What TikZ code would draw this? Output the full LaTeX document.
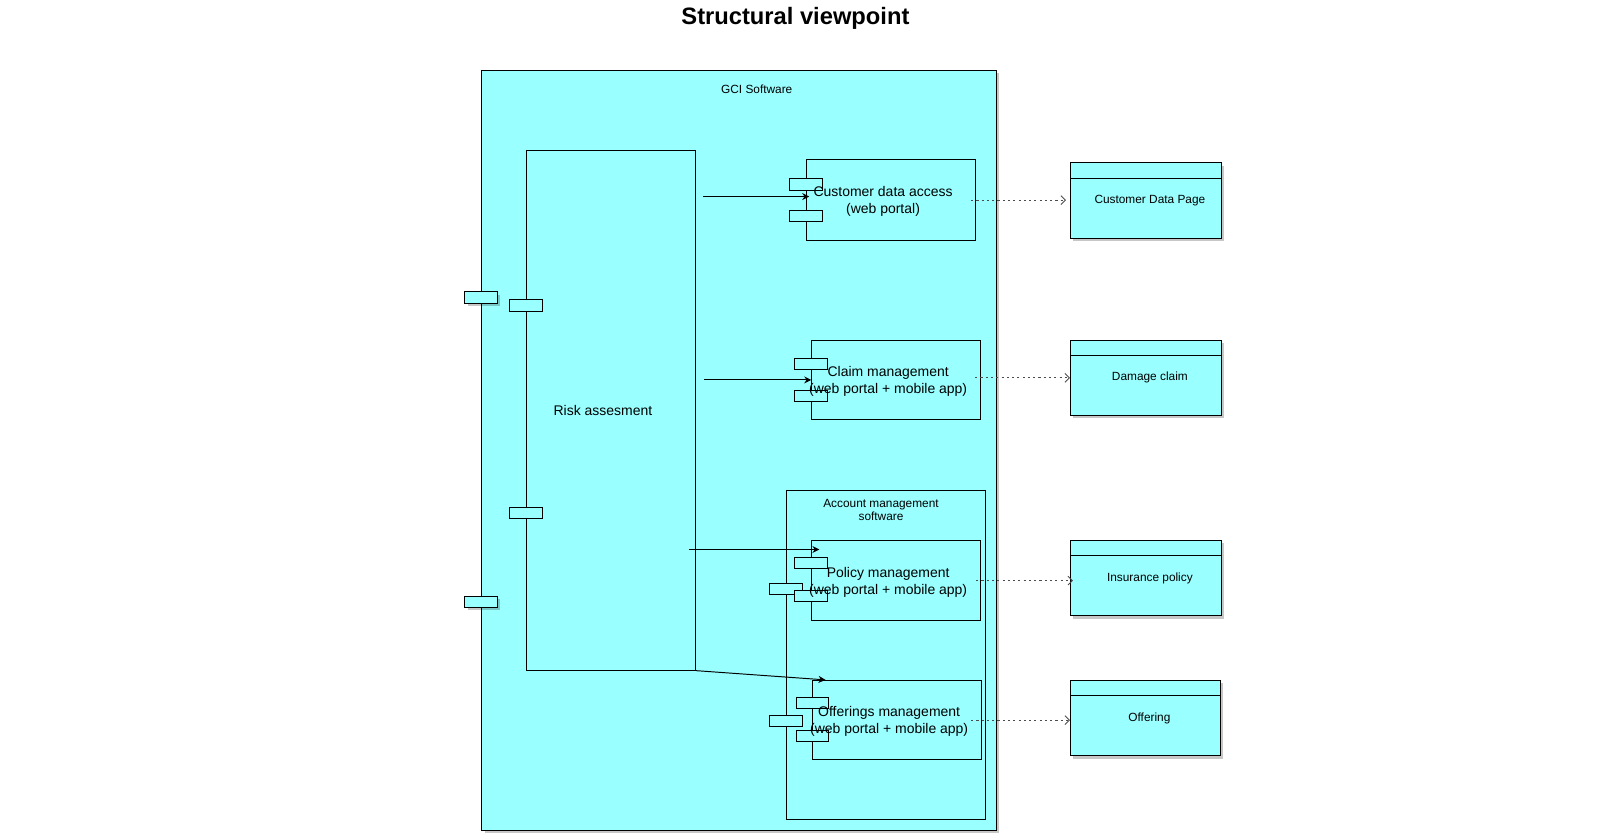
\documentclass[tikz,border=0pt]{standalone}
\usepackage{fontspec}
\setmainfont{Liberation Sans}
\usepackage{xcolor}
\usetikzlibrary{arrows.meta,calc,positioning,shadows}
\newlength{\px}
\setlength{\px}{0.020370cm}
\definecolor{gcicyan}{HTML}{99FFFF}
\tikzset{%
	sysbox/.style   = {draw, rectangle, fill=gcicyan, line width=0.55pt, inner sep=0pt},
	port/.style     = {draw, rectangle, fill=gcicyan, line width=0.55pt, inner sep=0pt, minimum width=32\px, minimum height=11\px},
	artifact/.style = {sysbox, minimum width=148\px, minimum height=74\px,
		label={[smalltext, xshift=4\px]center:#1},
		path picture={\draw[line width=0.55pt] ([yshift=-15\px]path picture bounding box.north west) -- ([yshift=-15\px]path picture bounding box.north east);}},
	shade/.style    = {drop shadow={shadow xshift=1.6pt, shadow yshift=-1.6pt, opacity=0.22, fill=black}},
	flow/.style     = {line width=0.55pt, -{Stealth[length=4pt,width=4pt]}},
	realize/.style  = {line width=0.5pt, gray!60!black, dash pattern=on 1.2pt off 1.8pt, -{Straight Barb[length=2.5pt,width=5pt]}},
	smalltext/.style= {font=\fontsize{6.75}{7.6}\selectfont, align=center, inner sep=0pt},
	comptext/.style = {font=\fontsize{7.95}{9.8}\selectfont, align=center, inner sep=0pt},
	title/.style    = {font=\fontsize{13.5}{16}\selectfont\bfseries, inner sep=0pt},
}
\begin{document}
\begin{tikzpicture}[x=0.020370cm,y=-0.020370cm]
	\node[title] (ttl) at (781,18) {Structural viewpoint};
	
	% system and its parts
	\node[sysbox, shade, minimum width=505\px, minimum height=746\px] (gci) at (725.5,442) {};
	\node[smalltext] (gcilbl) at (743,88) {GCI Software};
	\node[port, shade] (gcip1) at ([yshift=-223.5\px]gci.north west) {};
	\node[port, shade] (gcip2) at ([yshift=-522.5\px]gci.north west) {};
	
	\node[sysbox, minimum width=166\px, minimum height=510\px] (risk) at (600,403) {};
	\node[comptext] (risktxt) at (592,403) {Risk assesment};
	\node[port] (riskp1) at ([yshift=-152.5\px]risk.north west) {};
	\node[port] (riskp2) at ([yshift=-356.5\px]risk.north west) {};
	
	\node[sysbox, minimum width=196\px, minimum height=323\px] (acct) at (870,643.5) {};
	\node[smalltext] (acctlbl) at (865,501) {Account management\\software};
	\node[port] (acctp1) at ([yshift=-96.5\px]acct.north west) {};
	\node[port] (acctp2) at ([yshift=-226.5\px]acct.north west) {};
	
	\node[sysbox, minimum width=166\px, minimum height=79\px] (cda) at (875,196.5) {};
	\node[port] (cdap1) at ([yshift=-24.5\px]cda.north west) {};
	\node[port] (cdap2) at ([yshift=-55.5\px]cda.north west) {};
	\node[comptext] (cdatxt) at ([xshift=-8\px,yshift=-1.5\px]cda.center) {Customer data access\\(web portal)};
	
	\node[sysbox, minimum width=166\px, minimum height=78\px] (clm) at (880,373) {};
	\node[port] (clmp1) at ([yshift=-23.5\px]clm.north west) {};
	\node[port] (clmp2) at ([yshift=-55.5\px]clm.north west) {};
	\node[comptext] (clmtxt) at ([xshift=-8\px,yshift=-1.5\px]clm.center) {Claim management\\(web portal + mobile app)};
	
	\node[sysbox, minimum width=166\px, minimum height=78\px] (pol) at (880,570) {};
	\node[port] (polp1) at ([yshift=-22.5\px]pol.north west) {};
	\node[port] (polp2) at ([yshift=-54.5\px]pol.north west) {};
	\node[comptext] (poltxt) at ([xshift=-8\px,yshift=-1.5\px]pol.center) {Policy management\\(web portal + mobile app)};
	
	\node[sysbox, minimum width=166\px, minimum height=78\px] (off) at (881,707) {};
	\node[port] (offp1) at ([yshift=-23\px]off.north west) {};
	\node[port] (offp2) at ([yshift=-55\px]off.north west) {};
	\node[comptext] (offtxt) at ([xshift=-8\px,yshift=-1.5\px]off.center) {Offerings management\\(web portal + mobile app)};
	
	% artifacts
	\node[artifact=Customer Data Page, shade] (cdp) at (1125,197) {};
	\node[artifact=Damage claim, shade] (dmg) at (1125,371) {};
	\node[artifact=Insurance policy, shade] (ins) at (1125,567.5) {};
	\node[artifact=Offering, shade, minimum width=147\px] (offr) at (1124.5,705) {};
	
	% flows
	\draw[flow] ([xshift=7\px,yshift=3.5\px]risk.east |- cda.west) -- ([xshift=3\px,yshift=3.5\px]cda.west);
	\draw[flow] ([xshift=8\px]risk.east |- clm.west) -- (clm.west);
	\draw[flow] ([xshift=-7\px,yshift=-9\px]risk.east |- pol.north west) -- ([xshift=8\px,yshift=-9\px]pol.north west);
	\draw[flow] (risk.south east) -- ([xshift=13\px]off.north west);
	
	% realizations
	\draw[realize] ([xshift=-5\px]cda.east) -- ([xshift=-4\px]cdp.west |- cda.east);
	\draw[realize] ([xshift=-6\px]clm.east |- dmg.west) -- (dmg.west);
	\draw[realize] ([xshift=-5\px]pol.east) -- ([xshift=3\px]ins.west |- pol.east);
	\draw[realize] ([xshift=-11\px]off.east) -- (offr.west |- off.east);
	
	\pgfresetboundingbox
	\useasboundingbox (0,0) rectangle (1568,821.8);
\end{tikzpicture}
\end{document}
